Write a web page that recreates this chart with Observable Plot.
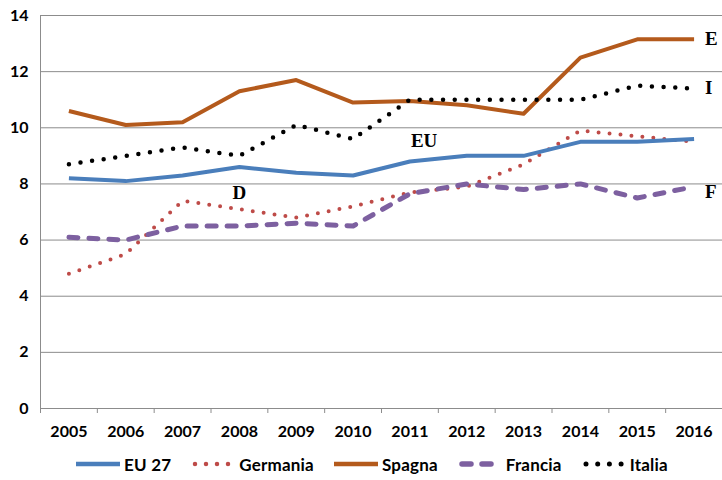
<!DOCTYPE html>
<html><head><meta charset="utf-8">
<script src="https://cdn.jsdelivr.net/npm/d3@7"></script>
<script src="https://cdn.jsdelivr.net/npm/@observablehq/plot@0.6"></script>
<style>
body{margin:0;background:#fff;font-family:Lato,"Open Sans",sans-serif;}
#legend{display:flex;justify-content:flex-start;align-items:center;height:32px;padding-left:76px;font-weight:bold;font-size:17px;letter-spacing:0.2px;}
#legend .it{display:flex;align-items:center;margin-right:20px;}
#legend svg{margin-right:4px;}
</style></head><body>
<div id="chart"></div>
<div id="legend"></div>
<script>
const years = [2005,2006,2007,2008,2009,2010,2011,2012,2013,2014,2015,2016];
const eu27     = [8.2,8.1,8.3,8.6,8.4,8.3,8.8,9.0,9.0,9.5,9.5,9.6];
const germania = [4.8,5.5,7.4,7.1,6.8,7.2,7.7,7.9,8.7,9.9,9.7,9.5];
const spagna   = [10.6,10.1,10.2,11.3,11.7,10.9,10.95,10.8,10.5,12.5,13.15,13.15];
const francia  = [6.1,6.0,6.5,6.5,6.6,6.5,7.65,8.0,7.8,8.0,7.5,7.9];
const italia   = [8.7,9.0,9.3,9.0,10.1,9.6,11.0,11.0,11.0,11.0,11.5,11.4];
const yTicks = [0,2,4,6,8,10,12,14];
const labelText  = ["E","I","EU","D","F"];
const labelYear  = [2016,2016,2011.25,2008,2016];
const labelValue = [13.15,11.43,9.54,7.68,7.7];

const seriesDefs = [
  {name:"EU 27", values:eu27, stroke:"#4a7ebb", width:4, dash:null, cap:"butt"},
  {name:"Germania", values:germania, stroke:"#be4b48", width:4, dash:"0,11", cap:"round"},
  {name:"Spagna", values:spagna, stroke:"#b45a1c", width:4, dash:null, cap:"butt"},
  {name:"Francia", values:francia, stroke:"#7d60a0", width:5, dash:"9,11", cap:"round"},
  {name:"Italia", values:italia, stroke:"#000000", width:4.5, dash:"0,11.7", cap:"round"}
];
const drawOrder = ["Germania","Francia","EU 27","Spagna","Italia"];
const labels = labelText.map((t,i)=>({t, x:labelYear[i], y:labelValue[i], edge:labelYear[i]===2016}));
const boundaries = years.map(y=>y-0.5).concat([years[years.length-1]+0.5]);

const marks = [
  Plot.gridY(yTicks, {stroke:"#8c8c8c", strokeOpacity:1, strokeWidth:1}),
  Plot.ruleX([years[0]-0.5], {y1:0, y2:14, stroke:"#8c8c8c"}),
  Plot.axisY(yTicks, {tickSize:0, tickPadding:12, fontSize:16, fontWeight:"bold", fill:"#000"}),
  Plot.axisX(boundaries, {tickSize:5, stroke:"#8c8c8c", text:null}),
  Plot.axisX(years, {tickSize:0, tickPadding:17, fontSize:16, fontWeight:"bold", fill:"#000", tickFormat:d=>String(d)})
];
for (const n of drawOrder) {
  const s = seriesDefs.find(d=>d.name===n);
  const data = years.map((y,i)=>({year:y, v:s.values[i]}));
  marks.push(Plot.line(data, {x:"year", y:"v", stroke:s.stroke, strokeWidth:s.width,
    strokeDasharray:s.dash, strokeLinecap:s.cap, strokeLinejoin:"round"}));
}
marks.push(Plot.text(labels.filter(d=>d.edge), {x:"x", y:"y", text:"t", textAnchor:"start", dx:11,
  fontFamily:"Liberation Serif, serif", fontWeight:"bold", fontSize:19, fill:"#000"}));
marks.push(Plot.text(labels.filter(d=>!d.edge), {x:"x", y:"y", text:"t",
  fontFamily:"Liberation Serif, serif", fontWeight:"bold", fontSize:19, fill:"#000"}));

const chart = Plot.plot({
  width:722, height:448,
  marginTop:15, marginBottom:40, marginLeft:40, marginRight:0,
  style:{fontFamily:"Lato, 'Open Sans', sans-serif", background:"#fff", overflow:"visible"},
  x:{type:"linear", domain:[years[0]-0.5, years[years.length-1]+0.5], axis:null},
  y:{domain:[0,14], axis:null},
  marks
});
document.getElementById("chart").appendChild(chart);

const leg = document.getElementById("legend");
for (const s of seriesDefs) {
  const it = document.createElement("div"); it.className="it";
  const ns="http://www.w3.org/2000/svg";
  const sv=document.createElementNS(ns,"svg"); sv.setAttribute("width","44"); sv.setAttribute("height","10");
  const ln=document.createElementNS(ns,"line");
  ln.setAttribute("x1", s.cap==="round"?"4":"0"); ln.setAttribute("x2", s.cap==="round"?"40":"44");
  ln.setAttribute("y1","5"); ln.setAttribute("y2","5");
  ln.setAttribute("stroke",s.stroke); ln.setAttribute("stroke-width",s.width+0.5);
  ln.setAttribute("stroke-linecap",s.cap); if(s.dash) ln.setAttribute("stroke-dasharray",s.dash);
  sv.appendChild(ln); it.appendChild(sv);
  const sp=document.createElement("span"); sp.textContent=s.name; it.appendChild(sp);
  leg.appendChild(it);
}
</script>
</body></html>
